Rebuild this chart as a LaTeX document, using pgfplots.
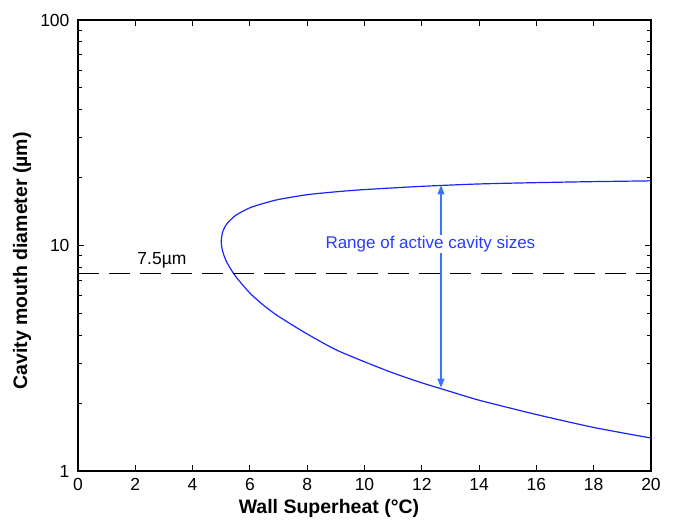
\documentclass[border=0pt]{standalone}
\usepackage{fontspec}
\setmainfont{Liberation Sans}
\usepackage{pgfplots}
\pgfplotsset{compat=1.18}
\usetikzlibrary{arrows.meta}
\definecolor{curveblue}{RGB}{25,35,255}
\definecolor{arrowblue}{RGB}{60,115,255}
\definecolor{textblue}{RGB}{40,60,255}
\begin{document}
\begin{tikzpicture}
\begin{axis}[name=main,
  scale only axis, width=573pt, height=451pt,
  xmin=0, xmax=20, ymode=log, ymin=1, ymax=100,
  xtick={0,2,...,20},
  ytick={1,10,100}, yticklabels={1,10,100},
  tick align=inside,
  major tick length=6pt, minor tick length=4pt,
  axis line style={line width=1.1pt},
  every tick/.style={black, line width=0.9pt},
  /pgf/number format/assume math mode=true,
  tick label style={font=\fontsize{17.5}{17.5}\selectfont},
  xticklabel style={yshift=-4pt},
  yticklabel style={xshift=-5pt},
  xlabel={\textbf{Wall Superheat (°C)}},
  ylabel={\textbf{Cavity mouth diameter (µm)}},
  label style={font=\fontsize{19.5}{20}\selectfont},
  xlabel style={at={(axis description cs:0.438,-0.082)}, anchor=center},
  ylabel style={at={(axis description cs:-0.0977,0.466)}, anchor=center},
]
% critical cavity size envelope (upper branch -> nose -> lower branch)
\addplot[curveblue, line width=1.2pt, smooth, tension=0.4] coordinates {
  (20,19.35) (18,19.2) (16,19.0) (14,18.75) (12,18.3) (10,17.7) (9,17.3)
  (8,16.8) (7,16.0) (6.5,15.4) (6,14.7) (5.5,13.6) (5.2,12.5) (5.05,11.5)
  (5.0,10.4)
  (5.05,9.4) (5.2,8.4) (5.5,7.3) (6,6.15) (6.5,5.4) (7,4.85) (8,4.05)
  (9,3.45) (10,3.05) (11,2.72) (12,2.46) (13,2.25) (14,2.06) (16,1.78)
  (18,1.56) (20,1.4)
};
\addplot[black, line width=1.2pt, dash pattern=on 21pt off 10pt] coordinates {(0,7.5) (20,7.5)};
\draw[arrowblue, line width=1.1pt, {Triangle[length=9pt,width=7pt]}-{Triangle[length=9pt,width=7pt]}]
  (axis cs:12.67,2.34) -- (axis cs:12.67,18.5);
\node[fill=white, inner sep=1pt, text=textblue, font=\fontsize{17}{17}\selectfont]
  at (axis cs:12.3,10.15) {Range of active cavity sizes};
\node[font=\fontsize{17.5}{17.5}\selectfont] at (axis cs:2.93,8.62) {7.5µm};
\end{axis}
\pgfresetboundingbox
\path[use as bounding box] (main.south west) ++(-78pt,-50pt) rectangle ++(673pt,521pt);
\end{tikzpicture}
\end{document}
